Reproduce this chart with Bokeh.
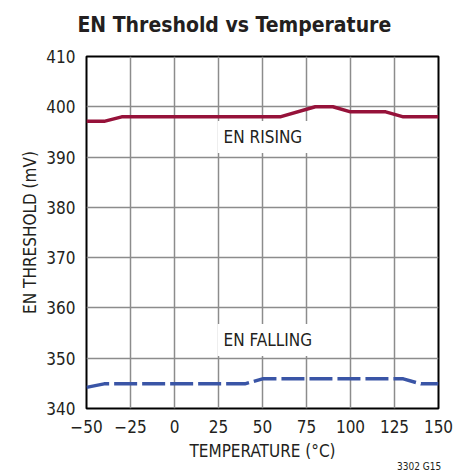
from bokeh.plotting import figure
from bokeh.models import Label, Range1d, FixedTicker, LinearAxis
from bokeh.embed import file_html
from bokeh.resources import INLINE

# ---- data ----
temp_rising = [-50, -40, -30, 60, 80, 90, 100, 120, 130, 150]
en_rising = [397.1, 397.1, 398.0, 398.0, 400.0, 400.0, 399.0, 399.0, 398.0, 398.0]
temp_falling = [-50, -40, 40, 50, 130, 140, 150]
en_falling = [344.2, 344.9, 344.9, 345.9, 345.9, 344.9, 344.9]
x_ticks = [-50, -25, 0, 25, 50, 75, 100, 125, 150]
y_ticks = [340, 350, 360, 370, 380, 390, 400, 410]
title_text = "EN Threshold vs Temperature"
note_text = "3302 G15"

FONT = "DejaVu Sans Condensed, Roboto"
TXT = "#231f20"

p = figure(width=466, height=474, output_backend="svg", toolbar_location=None,
           x_range=Range1d(-50, 150), y_range=Range1d(340, 410),
           min_border_left=86, min_border_right=28, min_border_top=56, min_border_bottom=66)

p.outline_line_color = "black"
p.outline_line_width = 2
p.outline_line_alpha = 1


def style_axis(ax, size="17px"):
    ax.axis_line_color = None
    ax.major_tick_line_color = None
    ax.minor_tick_line_color = None
    ax.major_tick_out = 0
    ax.major_tick_in = 0
    ax.major_label_text_font = FONT
    ax.major_label_text_font_size = size
    ax.major_label_text_color = TXT
    ax.axis_label_text_font = FONT
    ax.axis_label_text_font_size = "17px"
    ax.axis_label_text_font_style = "normal"
    ax.axis_label_text_color = TXT


style_axis(p.xaxis[0])
style_axis(p.yaxis[0])

p.xaxis.ticker = FixedTicker(ticks=x_ticks)
p.yaxis.ticker = FixedTicker(ticks=y_ticks)
p.xaxis.major_label_overrides = {t: ("\u2212" + str(-t) if t < 0 else str(t)) for t in x_ticks}
p.xaxis.axis_label = "TEMPERATURE (\u00b0C)"
p.yaxis.axis_label = "EN THRESHOLD (mV)"
p.xaxis.major_label_standoff = 11
p.yaxis.major_label_standoff = 11
p.xaxis.axis_label_standoff = 5
p.yaxis.axis_label_standoff = 3

# title as a single label on an axis above the frame (centred on the page)
title_pos = 34
top_ax = LinearAxis(ticker=FixedTicker(ticks=[title_pos]),
                    major_label_overrides={title_pos: title_text})
style_axis(top_ax, "21px")
top_ax.major_label_text_font_style = "bold"
top_ax.major_label_standoff = 20
p.add_layout(top_ax, "above")

# figure code at the bottom right
note_pos = 139
note_ax = LinearAxis(ticker=FixedTicker(ticks=[note_pos]),
                     major_label_overrides={note_pos: note_text})
style_axis(note_ax, "10px")
note_ax.major_label_standoff = -3
p.add_layout(note_ax, "below")

p.xgrid.grid_line_color = "#8c8c8c"
p.ygrid.grid_line_color = "#8c8c8c"
p.xgrid.grid_line_width = 1.5
p.ygrid.grid_line_width = 1.5

p.line(temp_rising, en_rising, line_color="#96123a", line_width=3.5)
p.line(temp_falling, en_falling, line_color="#3a55a6", line_width=3.5, line_dash="23 5")

for txt, yv in (("EN RISING", 394.0), ("EN FALLING", 353.6)):
    p.add_layout(Label(x=24.5, y=yv, text=txt, text_font=FONT, text_font_size="17px",
                       text_color=TXT, text_baseline="middle", text_align="left",
                       background_fill_color="white", padding=6))

open("out.html", "w").write(file_html(p, INLINE))
